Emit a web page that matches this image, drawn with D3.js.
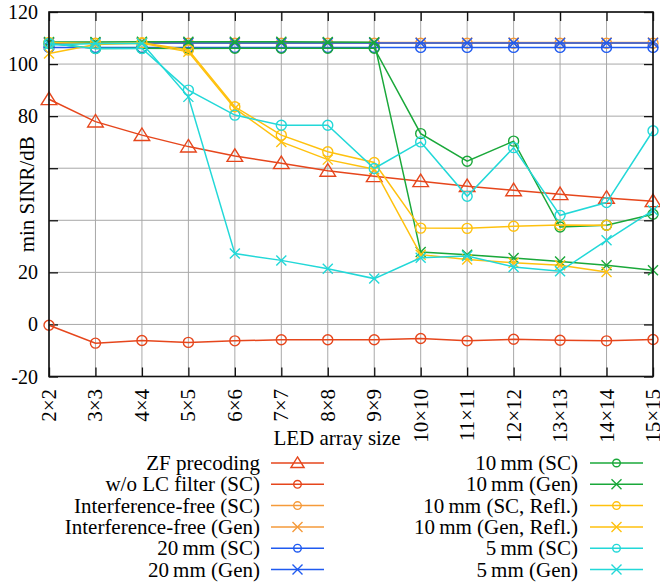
<!DOCTYPE html>
<html><head><meta charset="utf-8"><script src="https://cdn.jsdelivr.net/npm/d3@7"></script></head><body style="margin:0">
<svg id="c" width="660" height="582"></svg>
<script>
const categories = ["2×2","3×3","4×4","5×5","6×6","7×7","8×8","9×9","10×10","11×11","12×12","13×13","14×14","15×15"];
const yTicks = [-20,0,20,40,60,80,100,120];
const yTickLabels = ["-20","0","20","","","80","100","120"];

const zf       = [86.5,77.9,72.7,68.3,64.7,61.9,59.0,56.9,55.0,53.1,51.5,50.0,48.6,47.3];
const woLC     = [-0.3,-7.2,-6.2,-6.9,-6.3,-5.9,-5.9,-5.9,-5.4,-6.3,-5.7,-6.1,-6.3,-5.8];
const ifSC     = [108.0,108.0,108.0,108.0,108.0,108.0,108.0,108.0,108.0,108.0,108.0,108.0,108.0,108.0];
const ifGen    = [108.3,108.3,108.3,108.3,108.3,108.3,108.3,108.3,108.3,108.3,108.3,108.3,108.3,108.3];
const mm20SC   = [106.4,106.4,106.4,106.4,106.4,106.4,106.4,106.4,106.4,106.4,106.4,106.4,106.4,106.4];
const mm20Gen  = [108.1,108.1,108.1,108.1,108.1,108.1,108.1,108.1,108.1,108.1,108.1,108.1,108.1,108.1];
const mm10SC   = [108.0,106.0,106.1,106.0,106.1,106.1,106.1,106.1,73.3,62.7,70.4,37.4,38.1,42.3];
const mm10Gen  = [108.5,108.5,108.6,108.6,108.6,108.6,108.5,108.4,27.8,26.8,25.5,24.2,22.7,20.8];
const mm10SCr  = [108.3,107.9,108.2,105.4,83.6,72.7,66.3,62.2,37.0,36.9,37.7,38.2,38.1];
const mm10Genr = [104.1,107.5,108.0,104.7,83.0,70.1,63.3,59.6,26.8,24.9,23.7,22.7,20.1];
const mm5SC    = [107.9,106.0,106.0,90.0,80.4,76.5,76.5,59.9,70.1,49.2,67.9,41.9,46.8,74.4];
const mm5Gen   = [107.3,107.9,108.0,87.4,27.2,24.6,21.4,17.6,25.6,26.3,22.1,20.4,32.3,43.8];

const seriesNames = ["ZF precoding","w/o LC filter (SC)","Interference-free (SC)","Interference-free (Gen)","20\u2009mm (SC)","20\u2009mm (Gen)","10\u2009mm (SC)","10\u2009mm (Gen)","10\u2009mm (SC, Refl.)","10\u2009mm (Gen, Refl.)","5\u2009mm (SC)","5\u2009mm (Gen)"];
const seriesValues = [zf,woLC,ifSC,ifGen,mm20SC,mm20Gen,mm10SC,mm10Gen,mm10SCr,mm10Genr,mm5SC,mm5Gen];
const seriesMarkers = ["tri","circle","circle","x","circle","x","circle","x","circle","x","circle","x"];
const seriesColors = ["#e6461c","#e6461c","#f59a3a","#f59a3a","#1f5af0","#1f5af0","#1aa83a","#1aa83a","#ffc10e","#ffc10e","#22d8d8","#22d8d8"];

const svg = d3.select("#c");
const L=49, R=653, T=12, B=376.5;
const x = d3.scalePoint().domain(categories).range([L,R]);
const y = d3.scaleLinear().domain([-20,120]).range([B,T]);

function addText(parent, size){ return parent.append("text").attr("font-size",size).attr("font-family","Liberation Serif"); }

// grid
const g = svg.append("g");
g.selectAll("line.v").data(categories).join("line").attr("x1",d=>x(d)).attr("x2",d=>x(d)).attr("y1",T).attr("y2",B).attr("stroke","#a8a8a8").attr("stroke-width",1);
g.selectAll("line.h").data(yTicks).join("line").attr("x1",L).attr("x2",R).attr("y1",d=>y(d)).attr("y2",d=>y(d)).attr("stroke","#a8a8a8").attr("stroke-width",1);

// axes with inward ticks (labels drawn separately)
const tickLen = 9;
function styleAxis(a){ a.select(".domain").remove(); a.selectAll("text").remove(); a.selectAll("line").attr("stroke","#111").attr("stroke-width",1.3); }
svg.append("g").attr("transform",`translate(${L},0)`).call(d3.axisLeft(y).tickValues(yTicks).tickSize(-tickLen)).call(styleAxis);
svg.append("g").attr("transform",`translate(${R},0)`).call(d3.axisRight(y).tickValues(yTicks).tickSize(-tickLen)).call(styleAxis);
svg.append("g").attr("transform",`translate(0,${B})`).call(d3.axisBottom(x).tickSize(-tickLen)).call(styleAxis);
svg.append("g").attr("transform",`translate(0,${T})`).call(d3.axisTop(x).tickSize(-tickLen)).call(styleAxis);

// tick labels
yTicks.forEach((v,i)=>{ addText(svg,20).attr("x",38).attr("y",y(v)+7).attr("text-anchor","end").text(yTickLabels[i]); });
categories.forEach(c=>{ addText(svg,21).attr("transform",`translate(${x(c)+7},389) rotate(-90)`).attr("text-anchor","end").text(c); });

// axis titles
addText(svg,21).attr("x",337).attr("y",445).attr("text-anchor","middle").text("LED array size");
addText(svg,21).attr("transform",`translate(34,${(T+B)/2}) rotate(-90)`).attr("text-anchor","middle").text("min SINR/dB");

function marker(sel, type, cx, cy, s, color){
  if(type==="circle"){
    sel.append("circle").attr("cx",cx).attr("cy",cy).attr("r",s).attr("fill","none").attr("stroke",color).attr("stroke-width",1.4);
  } else if(type==="x"){
    sel.append("path").attr("d",`M${cx-s},${cy-s}L${cx+s},${cy+s}M${cx-s},${cy+s}L${cx+s},${cy-s}`).attr("stroke",color).attr("stroke-width",1.4).attr("fill","none");
  } else {
    const h=s*1.1;
    sel.append("path").attr("d",`M${cx},${cy-h}L${cx+s*1.2},${cy+h*0.75}L${cx-s*1.2},${cy+h*0.75}Z`).attr("stroke",color).attr("stroke-width",1.4).attr("fill","none");
  }
}

const line = d3.line().x(d=>x(d.c)).y(d=>y(d.v));
const plot = svg.append("g");
seriesValues.forEach((vals,i)=>{
  const pts = vals.map((v,j)=>({c:categories[j],v}));
  const sg = plot.append("g");
  sg.append("path").datum(pts).attr("d",line).attr("fill","none").attr("stroke",seriesColors[i]).attr("stroke-width",1.5);
  pts.forEach(p=>marker(sg, seriesMarkers[i], x(p.c), y(p.v), seriesMarkers[i]==="tri"?6.5:5, seriesColors[i]));
});

// frame
svg.append("rect").attr("x",L).attr("y",T).attr("width",R-L).attr("height",B-T).attr("fill","none").attr("stroke","#111").attr("stroke-width",1.6);

// legend
const leg = svg.append("g");
seriesNames.forEach((name,i)=>{
  const col = Math.floor(i/6), row = i%6;
  const ty = 463 + row*21.3;
  const tx = col===0 ? 260 : 578;
  const lx1 = col===0 ? 271 : 590, lx2 = lx1 + 53;
  addText(leg,21).attr("x",tx).attr("y",ty+7).attr("text-anchor","end").text(name);
  leg.append("line").attr("x1",lx1).attr("x2",lx2).attr("y1",ty).attr("y2",ty).attr("stroke",seriesColors[i]).attr("stroke-width",1.5);
  marker(leg, seriesMarkers[i], (lx1+lx2)/2, ty, seriesMarkers[i]==="tri"?5.5:(seriesMarkers[i]==="x"?5:3.8), seriesColors[i]);
});
</script></body></html>
